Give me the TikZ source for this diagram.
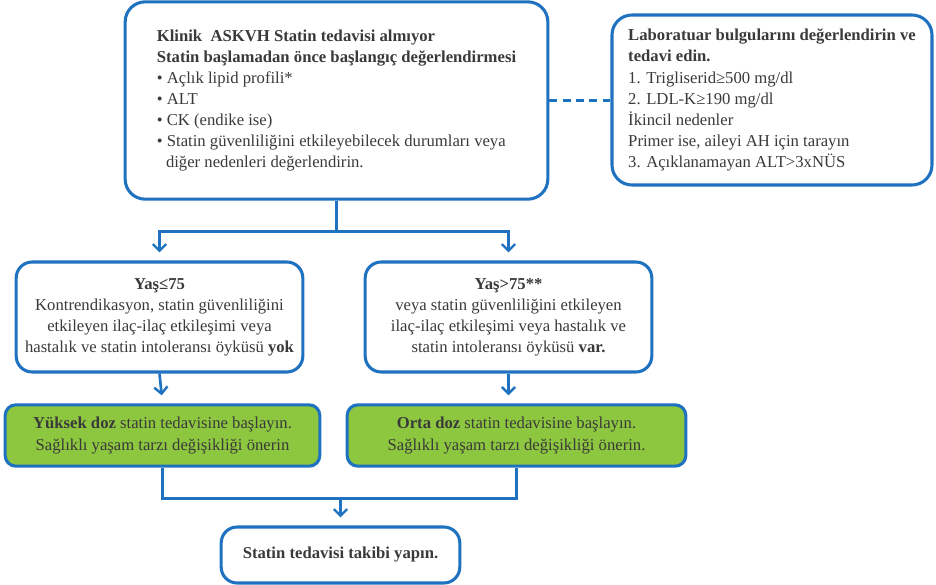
\documentclass[tikz,border=0pt]{standalone}
\usepackage{fontspec}
\setmainfont{Liberation Serif}
\usetikzlibrary{arrows.meta,positioning,calc}
\definecolor{FlowBlue}{HTML}{1F72C0}
\definecolor{FlowGreen}{HTML}{8DC63F}
\definecolor{TextGray}{HTML}{3A3A3A}
\tikzset{
  box/.style={draw=FlowBlue, line width=2.3pt, rounded corners=12pt, fill=white, text=TextGray, align=center, inner sep=0pt, font=\fontsize{12.5}{15.8}\selectfont},
  greenbox/.style={box, fill=FlowGreen, rounded corners=8pt},
  arr/.style={-{Straight Barb[length=5pt,width=10pt,line width=1.8pt]}, line width=2pt, draw=FlowBlue, shorten >=6pt},
  link/.style={line width=2pt, draw=FlowBlue},
  darr/.style={line width=2pt, draw=FlowBlue, dash pattern=on 6pt off 4pt}
}

\begin{document}
\begin{tikzpicture}[x=0.75pt, y=-0.75pt]
\useasboundingbox (0,0) rectangle (936,585);
% baslangic degerlendirmesi
\node[box, align=left, rounded corners=15pt, minimum width=317pt, minimum height=148pt] (top) at (336.5,100.5)
  {\textbf{Klinik\ \ ASKVH Statin tedavisi almıyor}\\
   \textbf{Statin başlamadan önce başlangıç değerlendirmesi}\\
   • Açlık lipid profili*\\
   • ALT\\
   • CK (endike ise)\\
   • Statin güvenliliğini etkileyebilecek durumları veya\\
   \hspace*{0.55em}diğer nedenleri değerlendirin.};
\node[box, align=left, rounded corners=15pt, minimum width=240pt, minimum height=127.5pt] (lab) at (772,100)
  {\textbf{Laboratuar bulgularını değerlendirin ve}\\
   \textbf{tedavi edin.}\\
   1. Trigliserid≥500 mg/dl\\
   2. LDL-K≥190 mg/dl\\
   İkincil nedenler\\
   Primer ise, aileyi AH için tarayın\\
   3. Açıklanamayan ALT>3xNÜS};
% yas gruplari
\node[box, minimum width=215pt, minimum height=82.5pt] (yas1) at (159.5,317)
  {\textbf{Yaş≤75}\\
   Kontrendikasyon, statin güvenliliğini\\
   etkileyen ilaç-ilaç etkileşimi veya\\
   hastalık ve statin intoleransı öyküsü \textbf{yok}};
\node[box, minimum width=215pt, minimum height=82.5pt] (yas2) at (508.5,317)
  {\textbf{Yaş>75**}\\
   veya statin güvenliliğini etkileyen\\
   ilaç-ilaç etkileşimi veya hastalık ve\\
   statin intoleransı öyküsü \textbf{var.}};
% tedavi
\node[greenbox, minimum width=236pt, minimum height=46pt] (yuksek) at (162.5,435.5)
  {\textbf{Yüksek doz} statin tedavisine başlayın.\\
   Sağlıklı yaşam tarzı değişikliği önerin};
\node[greenbox, minimum width=254pt, minimum height=46pt] (orta) at (516.5,435.5)
  {\textbf{Orta doz} statin tedavisine başlayın.\\
   Sağlıklı yaşam tarzı değişikliği önerin.};
\node[box, minimum width=179pt, minimum height=42pt] (takip) at (340.5,555)
  {\textbf{Statin tedavisi takibi yapın.}};

\draw[darr] (top.east) -- (top.east -| lab.west);
\draw[arr] (top.south) -- ++(0,31) -| (yas1.north);
\draw[arr] (top.south) -- ++(0,31) -| (yas2.north);
\draw[arr] (yas1.south) -- (yuksek.north);
\draw[arr] (yas2.south) -- (yas2.south |- orta.north);
\draw[link] (yuksek.south) -- ++(0,31) coordinate (join) -| (orta.south);
\draw[arr] (takip.north |- join) -- (takip.north);
\end{tikzpicture}
\end{document}
